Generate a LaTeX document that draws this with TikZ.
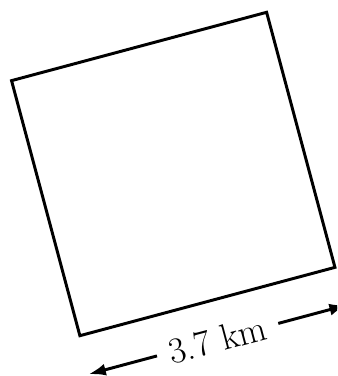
\documentclass[tikz,border=0pt]{standalone}
\usetikzlibrary{arrows.meta, positioning, calc}
\tikzset{
  plotsq/.style={draw, line width=2.1pt, minimum size=6.6cm, rotate=15, inner sep=0pt},
  dimline/.style={-{Latex[length=4.3mm, width=3mm]}, line width=2.1pt},
  dimlabel/.style={rotate=15, inner xsep=9pt, inner ysep=2pt, font=\fontsize{26}{31}\selectfont}
}
\begin{document}
\begin{tikzpicture}[x=0.025cm, y=0.025cm]
  \useasboundingbox (0,0) rectangle (337,376);
  \clip (0,0) rectangle (337,376);
  \node[plotsq] (field) at (173.25,202) {};
  % dimension line under the bottom side
  \coordinate (dimL) at ($(field.south west)+(-75:38)$);
  \coordinate (dimR) at ($(field.south east)+(-75:38)$);
  \node[dimlabel] (len) at ($(dimL)!0.5!(dimR)$) {3.7 km};
  \draw[dimline] (len) -- (dimL);
  \draw[dimline] (len) -- (dimR);
\end{tikzpicture}
\end{document}
